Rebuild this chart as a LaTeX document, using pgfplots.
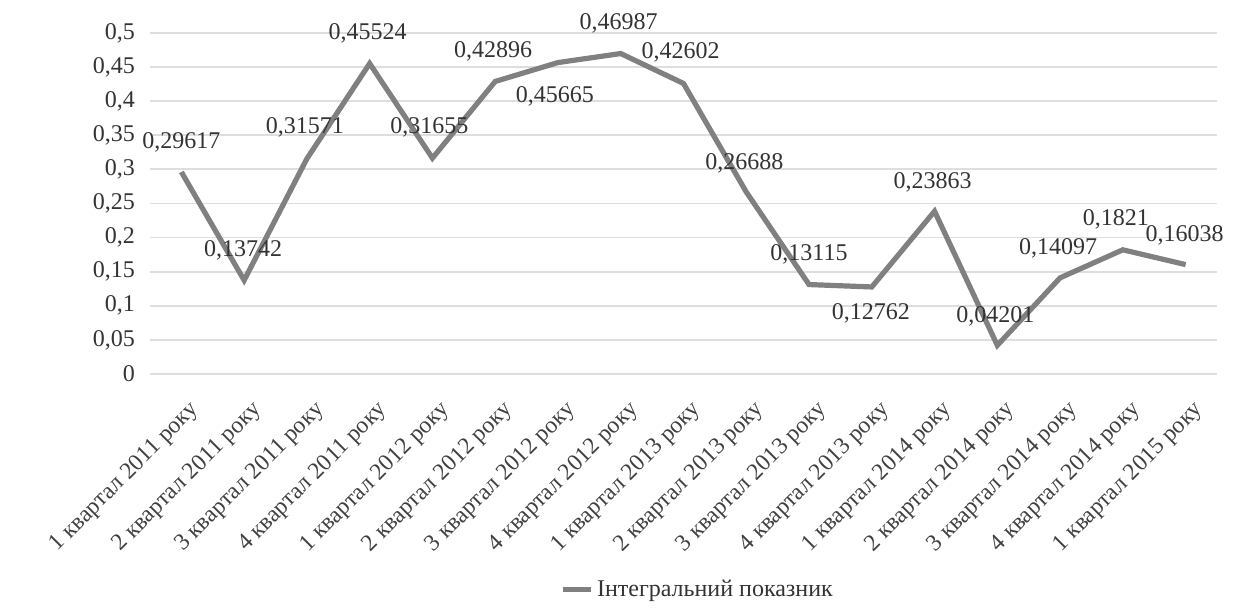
\documentclass[border=0pt]{standalone}
\usepackage{fontspec}
\setmainfont{Liberation Serif}
\usepackage{pgfplots}
\usepackage{pgfplotstable}
\pgfplotsset{compat=1.18}
\definecolor{linegray}{RGB}{128,128,128}
\definecolor{gridgray}{RGB}{222,222,222}
\pgfplotstableread{
x y lab dx dy
0 0.29617 0,29617 0 15
1 0.13742 0,13742 -0.5 15
2 0.31571 0,31571 -1 15.5
3 0.45524 0,45524 -1 15
4 0.31655 0,31655 -1.5 15.5
5 0.42896 0,42896 -1 15
6 0.45665 0,45665 -1.5 -17
7 0.46987 0,46987 -1 15
8 0.42602 0,42602 -1.5 15.5
9 0.26688 0,26688 -1 14.5
10 0.13115 0,13115 0 15
11 0.12762 0,12762 -0.5 -13
12 0.23863 0,23863 -1 14.5
13 0.04201 0,04201 -1 14.5
14 0.14097 0,14097 -1 14.5
15 0.1821 0,1821 -3.5 15
16 0.16038 0,16038 -0.5 14.5
}\datatable
\begin{document}
\begin{tikzpicture}
\begin{axis}[
  name=ax,
  scale only axis,
  width=533.5pt, height=170.5pt,
  xmin=-0.5, xmax=16.5, ymin=0, ymax=0.5,
  clip=false,
  axis line style={draw=none},
  major tick length=0pt,
  ymajorgrids,
  grid style={gridgray, line width=0.9pt},
  ytick={0,0.05,0.1,0.15,0.2,0.25,0.3,0.35,0.4,0.45,0.5},
  yticklabel style={font=\fontsize{12}{14}\selectfont, color=black!80, xshift=-4pt},
  /pgf/number format/.cd, use comma, fixed, precision=2, assume math mode=true, /pgfplots/.cd,
  xtick={0,...,16},
  xticklabels={1 квартал 2011 року, 2 квартал 2011 року, 3 квартал 2011 року, 4 квартал 2011 року, 1 квартал 2012 року, 2 квартал 2012 року, 3 квартал 2012 року, 4 квартал 2012 року, 1 квартал 2013 року, 2 квартал 2013 року, 3 квартал 2013 року, 4 квартал 2013 року, 1 квартал 2014 року, 2 квартал 2014 року, 3 квартал 2014 року, 4 квартал 2014 року, 1 квартал 2015 року},
  xticklabel style={font=\fontsize{11.8}{13}\selectfont, color=black!75, rotate=45, anchor=east, inner sep=1pt, yshift=-16.5pt, xshift=-5.5pt},
  legend style={at={(0.514,-0.633)}, anchor=center, draw=none, fill=none, font=\fontsize{12}{14}\selectfont, text=black!80},
  legend image code/.code={\draw[#1, line width=2.5pt] (0pt,0pt) -- (14pt,0pt);},
]
\addplot[linegray, line width=2.6pt, no markers,
  point meta=explicit symbolic,
  visualization depends on={\thisrow{dx} \as \labdx},
  visualization depends on={\thisrow{dy} \as \labdy},
  nodes near coords,
  nodes near coords style={font=\fontsize{12}{14}\selectfont, text=black!80, anchor=center, xshift=\labdx pt, yshift=\labdy pt},
] table[x=x, y=y, meta=lab] {\datatable};
\addlegendentry{Інтегральний показник}
\end{axis}
\path ([xshift=-75pt, yshift=-116.5pt]ax.south west) rectangle ([xshift=10.5pt, yshift=16.5pt]ax.north east);
\end{tikzpicture}
\end{document}
